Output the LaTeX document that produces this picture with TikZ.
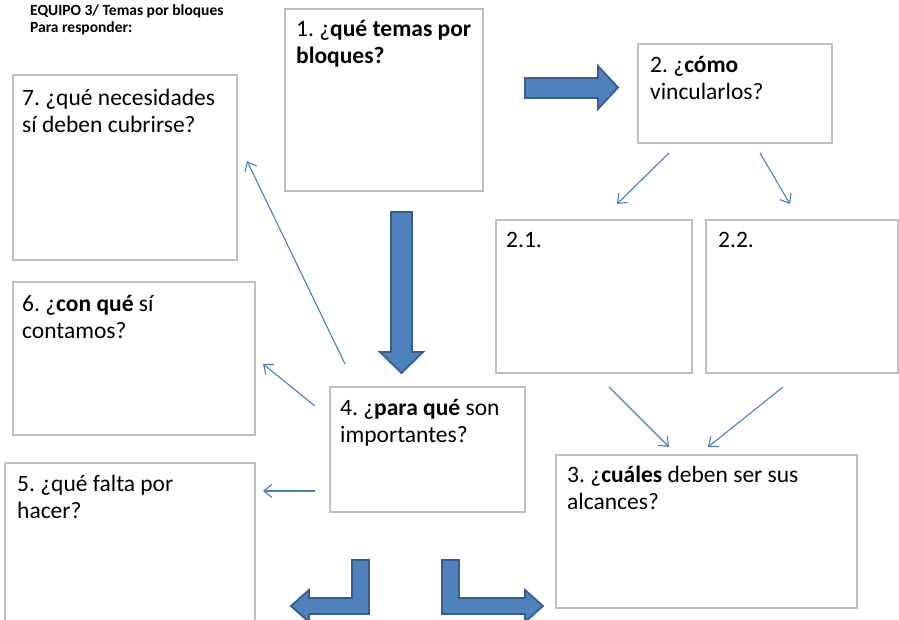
\documentclass[tikz,border=0pt]{standalone}
\usepackage{fontspec}
\setmainfont{Carlito}
\usetikzlibrary{arrows.meta}
\definecolor{boxgray}{HTML}{BFBFBF}
\definecolor{blockfill}{HTML}{4F81BD}
\definecolor{blockline}{HTML}{385D8A}
\definecolor{thinblue}{HTML}{4A7EBB}
\frenchspacing
\tikzset{
  qbox/.style={draw=boxgray, line width=1.3pt, fill=none},
  qtext/.style={anchor=base west, inner sep=0pt, text width=320pt, align=flush left,
    font=\fontsize{23.5}{27}\selectfont},
  blockarrow/.style={fill=blockfill, draw=blockline, line width=1.8pt, line join=miter},
  thinarrow/.style={draw=thinblue, line width=1.1pt, -{Straight Barb[length=8pt,width=13pt,line width=1.1pt]}},
}
\begin{document}
\begin{tikzpicture}[x=1pt,y=-1pt]
\useasboundingbox (0,0) rectangle (899,620);
% heading
\node[anchor=base west, inner sep=0pt, text width=250pt, align=flush left, font=\bfseries\fontsize{15.5}{17}\selectfont] (head) at (30,16) {EQUIPO 3/ Temas por bloques\\Para responder:};
% boxes
\draw[qbox] (285,9) rectangle (483,191);
\node[qtext] (t1) at (296,37) {1. ¿\textbf{qué temas por}\\\textbf{bloques?}};
\draw[qbox] (638,44) rectangle (832,143);
\node[qtext] (t2) at (650,73) {2. ¿\textbf{cómo}\\vincularlos?};
\draw[qbox] (13,75) rectangle (237,260);
\node[qtext] (t7) at (22,106) {7. ¿qué necesidades\\sí deben cubrirse?};
\draw[qbox] (496,220) rectangle (692,373);
\node[qtext] (t21) at (506,248) {2.1.};
\draw[qbox] (706,220) rectangle (898,373);
\node[qtext] (t22) at (718,248) {2.2.};
\draw[qbox] (13,282) rectangle (255,435);
\node[qtext] (t6) at (22,311) {6. ¿\textbf{con qué} sí\\contamos?};
\draw[qbox] (330,387) rectangle (525,512);
\node[qtext] (t4) at (340,415) {4. ¿\textbf{para qué} son\\importantes?};
\draw[qbox] (556,455) rectangle (857,608);
\node[qtext] (t3) at (567,482) {3. ¿\textbf{cuáles} deben ser sus\\alcances?};
\draw[qbox] (5,463) -- (255,463) -- (255,625) (5,625) -- (5,463);
\node[qtext] (t5) at (17,491) {5. ¿qué falta por\\hacer?};
% block arrows
\draw[blockarrow] (525,78) -- (598,78) -- (598,66) -- (618,87.5) -- (598,109) -- (598,98) -- (525,98) -- cycle;
\draw[blockarrow] (391,212) -- (412,212) -- (412,352) -- (423,352) -- (401.5,373) -- (380,352) -- (391,352) -- cycle;
\draw[blockarrow] (352,560) -- (369,560) -- (369,614) -- (309,614) -- (309,622) -- (291,606) -- (309,590) -- (309,598) -- (352,598) -- cycle;
\draw[blockarrow] (442,560) -- (459,560) -- (459,598) -- (525,598) -- (525,590) -- (543,606) -- (525,622) -- (525,614) -- (442,614) -- cycle;
% thin arrows
\coordinate (c47s) at (345,364); \coordinate (c47e) at (247,161);
\coordinate (c46s) at (315,406); \coordinate (c46e) at (263,364);
\coordinate (c45s) at (315,491); \coordinate (c45e) at (263,491);
\coordinate (c221s) at (669,153); \coordinate (c221e) at (617,204);
\coordinate (c222s) at (760,153); \coordinate (c222e) at (790,204);
\coordinate (c213s) at (609,387); \coordinate (c213e) at (669,447);
\coordinate (c223s) at (783,387); \coordinate (c223e) at (708,447);
\draw[thinarrow] (c47s) -- (c47e);
\draw[thinarrow] (c46s) -- (c46e);
\draw[thinarrow] (c45s) -- (c45e);
\draw[thinarrow] (c221s) -- (c221e);
\draw[thinarrow] (c222s) -- (c222e);
\draw[thinarrow] (c213s) -- (c213e);
\draw[thinarrow] (c223s) -- (c223e);
\end{tikzpicture}
\end{document}
